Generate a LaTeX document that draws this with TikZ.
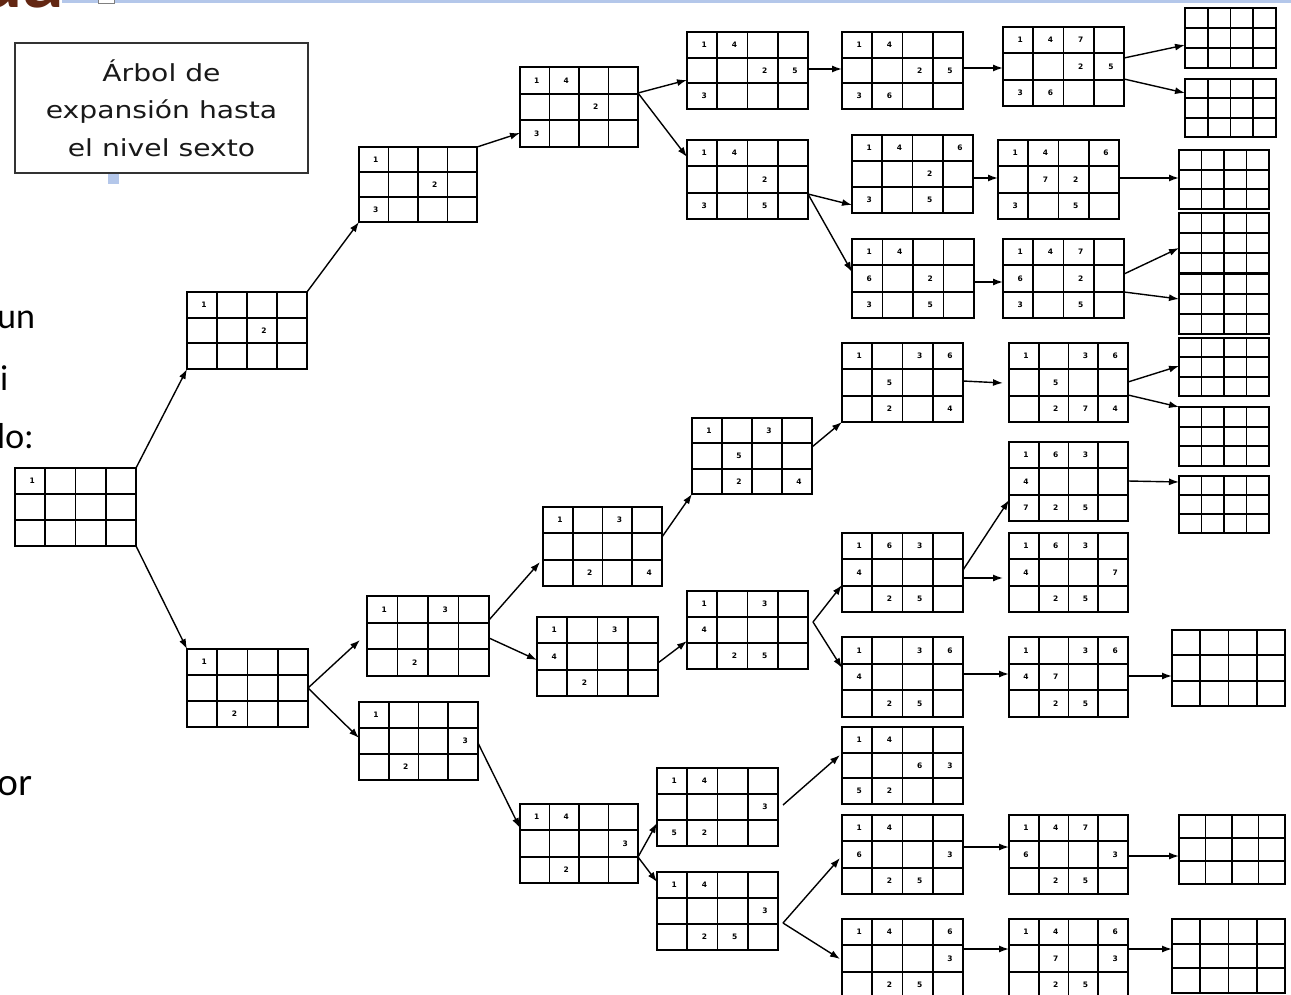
\documentclass[tikz,border=0pt]{standalone}
\usepackage{fontspec}
\usetikzlibrary{calc,arrows.meta}
\newfontfamily\lblfont[FakeStretch=1.2]{DejaVu Sans}
\newfontfamily\slidefont{Lato}
\newfontfamily\digfont{DejaVu Sans}
\definecolor{topblue}{RGB}{180,199,234}
\definecolor{titlebrown}{RGB}{98,38,18}
\tikzset{
 gridbox/.style={draw=black, line width=1.8pt, rectangle, inner sep=0pt, outer sep=0pt, anchor=north west},
 gridline/.style={draw=black, line width=1.8pt},
 digit/.style={font=\digfont\bfseries\fontsize{7.5}{8}\selectfont, inner sep=0pt, text=black},
 conn/.style={draw=black, line width=1.4pt, -{Latex[length=10pt,width=7pt]}},
 slidetext/.style={font=\slidefont\fontsize{34}{40}\selectfont, anchor=base west, inner sep=0pt},
}
\newcommand{\egrd}[5]{%
 \node[gridbox, minimum width=#4pt, minimum height=#5pt] (#1) at (#2,#3) {};
 \foreach \gi in {1,2,3}{\draw[gridline] ($(#1.north west)!\gi/4!(#1.north east)$) -- ($(#1.south west)!\gi/4!(#1.south east)$);}
 \foreach \gi in {1,2}{\draw[gridline] ($(#1.north west)!\gi/3!(#1.south west)$) -- ($(#1.north east)!\gi/3!(#1.south east)$);}
}
\newcommand{\grd}[6]{%
 \egrd{#1}{#2}{#3}{#4}{#5}
 \foreach \gr/\gc/\gd in {#6}{\node[digit] at ($(#1.north west)+({(\gc-0.5)*#4/4+2},{(\gr-0.5)*#5/3})$) {\gd};}
}
\begin{document}
\begin{tikzpicture}[x=1pt,y=-1pt]
\useasboundingbox (0,0) rectangle (1291,995);
\clip (0,0) rectangle (1291,995);
\fill[white] (0,0) rectangle (1291,995);
% slide decorations
\fill[topblue] (62,0) rectangle (1291,3.5);
\draw[gray, fill=white, line width=0.6pt] (98,-5) rectangle (114,3);
\node[font=\slidefont\bfseries\fontsize{80}{80}\selectfont, text=titlebrown, anchor=base east, inner sep=0pt] (ttl) at (64,8) {da};
\node[slidetext] (t1) at (-3,328) {un};
\node[slidetext] (t2) at (0,390) {i};
\node[slidetext] (t3) at (-3,448) {lo:};
\node[slidetext, font=\slidefont\fontsize{37}{42}\selectfont] (t4) at (-3,795) {or};
% label box
\node[draw=black!80, line width=1.2pt, minimum width=293pt, minimum height=130pt, inner sep=0pt, align=center, font=\lblfont\fontsize{23.5}{37.5}\selectfont, text=black!90] (lbl) at (161.5,108) {Árbol de\\expansión hasta\\el nivel sexto};
\fill[topblue] (108,174) rectangle (119,184);
% grids
\grd{root}{15}{468}{121}{78}{1/1/1}
\grd{b2}{187}{292}{120}{77}{1/1/1,2/3/2}
\grd{b3}{359}{147}{118}{75}{1/1/1,2/3/2,3/1/3}
\grd{b4}{520}{67}{118}{80}{1/1/1,1/2/4,2/3/2,3/1/3}
\grd{b5}{687}{32}{121}{77}{1/1/1,1/2/4,2/3/2,2/4/5,3/1/3}
\grd{b6}{842}{32}{121}{77}{1/1/1,1/2/4,2/3/2,2/4/5,3/1/3,3/2/6}
\grd{b9}{1003}{27}{121}{79}{1/1/1,1/2/4,1/3/7,2/3/2,2/4/5,3/1/3,3/2/6}
\grd{b7}{687}{140}{121}{79}{1/1/1,1/2/4,2/3/2,3/1/3,3/3/5}
\grd{b8}{852}{135}{121}{78}{1/1/1,1/2/4,1/4/6,2/3/2,3/1/3,3/3/5}
\grd{b10}{998}{140}{121}{79}{1/1/1,1/2/4,1/4/6,2/2/7,2/3/2,3/1/3,3/3/5}
\grd{b12}{852}{239}{122}{79}{1/1/1,1/2/4,2/1/6,2/3/2,3/1/3,3/3/5}
\grd{b11}{1003}{239}{121}{79}{1/1/1,1/2/4,1/3/7,2/1/6,2/3/2,3/1/3,3/3/5}
\grd{b25}{187}{649}{121}{78}{1/1/1,3/2/2}
\grd{b19}{367}{596}{122}{80}{1/1/1,1/3/3,3/2/2}
\grd{b26}{359}{702}{119}{78}{1/1/1,2/4/3,3/2/2}
\grd{b16}{543}{507}{119}{79}{1/1/1,1/3/3,3/2/2,3/4/4}
\grd{b17}{537}{617}{121}{79}{1/1/1,1/3/3,2/1/4,3/2/2}
\grd{b15}{692}{418}{120}{76}{1/1/1,1/3/3,2/2/5,3/2/2,3/4/4}
\grd{b13}{842}{343}{121}{79}{1/1/1,1/3/3,1/4/6,2/2/5,3/2/2,3/4/4}
\grd{b14}{1009}{343}{119}{79}{1/1/1,1/3/3,1/4/6,2/2/5,3/2/2,3/3/7,3/4/4}
\grd{b18}{687}{591}{121}{78}{1/1/1,1/3/3,2/1/4,3/2/2,3/3/5}
\grd{b21}{842}{533}{121}{79}{1/1/1,1/2/6,1/3/3,2/1/4,3/2/2,3/3/5}
\grd{b20}{1009}{442}{119}{79}{1/1/1,1/2/6,1/3/3,2/1/4,3/1/7,3/2/2,3/3/5}
\grd{b22}{1009}{533}{119}{79}{1/1/1,1/2/6,1/3/3,2/1/4,2/4/7,3/2/2,3/3/5}
\grd{b23}{842}{637}{121}{80}{1/1/1,1/3/3,1/4/6,2/1/4,3/2/2,3/3/5}
\grd{b24}{1009}{637}{119}{80}{1/1/1,1/3/3,1/4/6,2/1/4,2/2/7,3/2/2,3/3/5}
\grd{b27}{520}{804}{118}{79}{1/1/1,1/2/4,2/4/3,3/2/2}
\grd{b28}{657}{768}{121}{78}{1/1/1,1/2/4,2/4/3,3/1/5,3/2/2}
\grd{b29}{657}{872}{121}{78}{1/1/1,1/2/4,2/4/3,3/2/2,3/3/5}
\grd{b30}{842}{727}{121}{77}{1/1/1,1/2/4,2/3/6,2/4/3,3/1/5,3/2/2}
\grd{b31}{842}{815}{121}{79}{1/1/1,1/2/4,2/1/6,2/4/3,3/2/2,3/3/5}
\grd{b32}{1009}{815}{119}{79}{1/1/1,1/2/4,1/3/7,2/1/6,2/4/3,3/2/2,3/3/5}
\grd{b33}{842}{919}{121}{79}{1/1/1,1/2/4,1/4/6,2/4/3,3/2/2,3/3/5}
\grd{b34}{1009}{919}{119}{79}{1/1/1,1/2/4,1/4/6,2/2/7,2/4/3,3/2/2,3/3/5}
\egrd{e1}{1185}{8}{91}{60}
\egrd{e2}{1185}{79}{91}{58}
\egrd{e3}{1179}{150}{90}{59}
\egrd{e4}{1179}{213}{90}{60}
\egrd{e5}{1179}{274}{90}{60}
\egrd{e6}{1179}{338}{90}{58}
\egrd{e7}{1179}{407}{90}{59}
\egrd{e8}{1179}{476}{90}{57}
\egrd{e9}{1172}{630}{113}{76}
\egrd{e10}{1179}{815}{106}{69}
\egrd{e11}{1172}{919}{113}{74}
% connectors
\draw[conn] (root.north east) -- (b2.south west);
\draw[conn] (root.south east) -- (b25.north west);
\draw[conn] (b2.north east) -- (b3.south west);
\draw[conn] (b3.north east) -- ([yshift=-66pt]b4.north west);
\draw[conn] ([yshift=-26pt]b4.north east) -- ([yshift=-48pt]b5.north west);
\draw[conn] ([yshift=-26pt]b4.north east) -- ([yshift=-17pt]b7.north west);
\draw[conn] ([yshift=-37pt]b5.north east) -- ([yshift=-37pt]b6.north west);
\draw[conn] ([yshift=-36pt]b6.north east) -- ([yshift=-41pt]b9.north west);
\draw[conn] ([yshift=-31pt]b9.north east) -- ([yshift=-37pt]e1.north west);
\draw[conn] ([yshift=-52pt]b9.north east) -- ([yshift=-14pt]e2.north west);
\draw[conn] ([yshift=-54pt]b7.north east) -- ([yshift=-70pt]b8.north west);
\draw[conn] ([yshift=-54pt]b7.north east) -- ([yshift=-33pt]b12.north west);
\draw[conn] ([yshift=-43pt]b8.north east) -- ([yshift=-38pt]b10.north west);
\draw[conn] ([yshift=-38pt]b10.north east) -- ([yshift=-28pt]e3.north west);
\draw[conn] ([yshift=-43pt]b12.north east) -- ([yshift=-43pt]b11.north west);
\draw[conn] ([yshift=-35pt]b11.north east) -- ([yshift=-35pt]e4.north west);
\draw[conn] ([yshift=-53pt]b11.north east) -- ([yshift=-25pt]e5.north west);
\draw[conn] (b25.east) -- ([xshift=-7pt,yshift=-44pt]b19.north west);
\draw[conn] (b25.east) -- ([yshift=-36pt]b26.north west);
\draw[conn] ([yshift=-24pt]b19.north east) -- ([xshift=-3pt,yshift=-55pt]b16.north west);
\draw[conn] ([yshift=-42pt]b19.north east) -- ([yshift=-43pt]b17.north west);
\draw[conn] ([yshift=-30pt]b16.north east) -- (b15.south west);
\draw[conn] ([yshift=-46pt]b17.north east) -- ([yshift=-50pt]b18.north west);
\draw[conn] ([yshift=-29pt]b15.north east) -- (b13.south west);
\draw[conn] ([yshift=-38pt]b13.north east) -- ([xshift=-6pt,yshift=-40pt]b14.north west);
\draw[conn] ([yshift=-39pt]b14.north east) -- ([yshift=-28pt]e6.north west);
\draw[conn] ([yshift=-52pt]b14.north east) -- (e7.north west);
\coordinate (f1) at ([xshift=5pt,yshift=-31pt]b18.north east);
\draw[conn] (f1) -- ([yshift=-52pt]b21.north west);
\draw[conn] (f1) -- ([yshift=-31pt]b23.north west);
\draw[conn] ([yshift=-37pt]b21.north east) -- ([yshift=-58pt]b20.north west);
\draw[conn] ([yshift=-45pt]b21.north east) -- ([xshift=-6pt,yshift=-45pt]b22.north west);
\draw[conn] ([yshift=-39pt]b20.north east) -- ([yshift=-6pt]e8.north west);
\draw[conn] ([yshift=-37pt]b23.north east) -- ([yshift=-37pt]b24.north west);
\draw[conn] ([yshift=-39pt]b24.north east) -- ([yshift=-46pt]e9.north west);
\draw[conn] ([yshift=-41pt]b26.north east) -- ([yshift=-24pt]b27.north west);
\draw[conn] ([yshift=-53pt]b27.north east) -- ([yshift=-55pt]b28.north west);
\draw[conn] ([yshift=-53pt]b27.north east) -- ([yshift=-10pt]b29.north west);
\draw[conn] ([xshift=5pt,yshift=-37pt]b28.north east) -- ([xshift=-2pt,yshift=-28pt]b30.north west);
\coordinate (g1) at ([xshift=5pt,yshift=-51pt]b29.north east);
\draw[conn] (g1) -- ([xshift=-2pt,yshift=-43pt]b31.north west);
\draw[conn] (g1) -- ([xshift=-2pt,yshift=-40pt]b33.north west);
\draw[conn] ([yshift=-32pt]b31.north east) -- ([yshift=-32pt]b32.north west);
\draw[conn] ([yshift=-41pt]b32.north east) -- ([yshift=-41pt]e10.north west);
\draw[conn] ([yshift=-30pt]b33.north east) -- ([yshift=-30pt]b34.north west);
\draw[conn] ([yshift=-30pt]b34.north east) -- ([yshift=-30pt]e11.north west);
\end{tikzpicture}
\end{document}
